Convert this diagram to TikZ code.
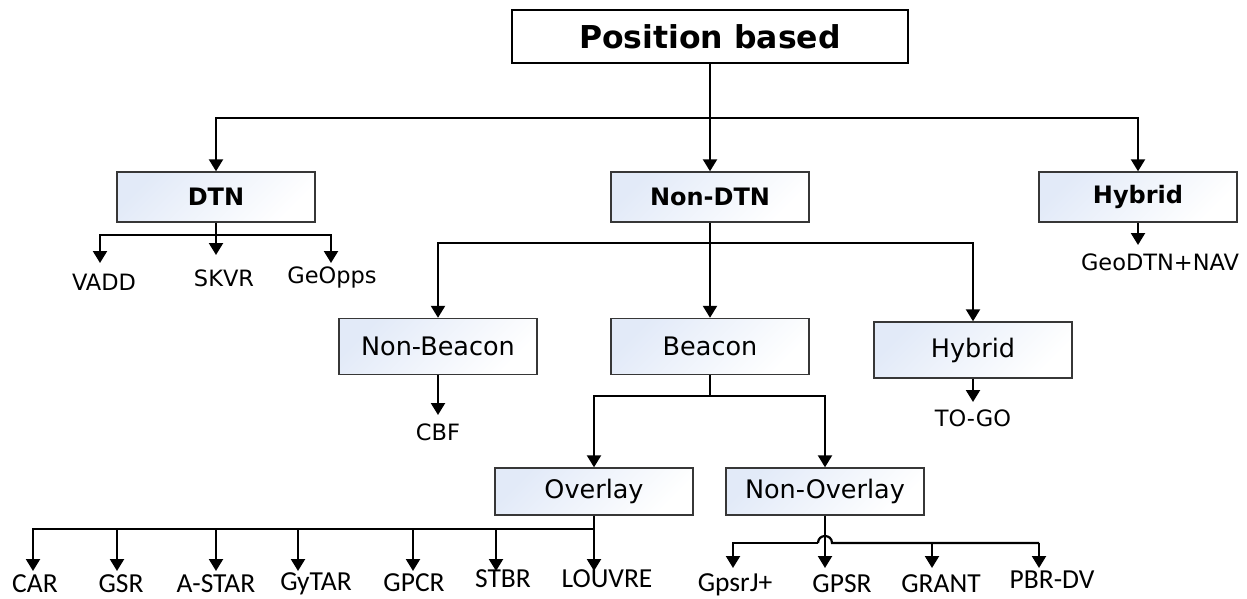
\documentclass[tikz,border=0pt]{standalone}
\usepackage{fontspec}
\setmainfont{DejaVu Sans}
\newfontfamily\leaffont{Carlito}
\usetikzlibrary{arrows.meta}
\definecolor{boxtint}{RGB}{226,234,248}
\definecolor{edgegray}{RGB}{55,55,55}
\tikzset{
  rootbox/.style={draw=black, line width=1.4pt, fill=white, minimum width=396pt,
    minimum height=53pt, inner sep=0pt, font=\fontsize{31.5}{36}\selectfont\bfseries},
  catbox/.style={draw=edgegray, line width=1.4pt, top color=boxtint, bottom color=white,
    shading angle=45, minimum width=198pt, minimum height=50pt, inner sep=0pt,
    font=\fontsize{24}{28}\selectfont\bfseries},
  subbox/.style={catbox, minimum height=56pt, font=\fontsize{25.5}{30}\selectfont},
  lowbox/.style={subbox, minimum height=47pt},
  leaf/.style={inner sep=0pt, font=\fontsize{22.5}{26}\selectfont},
  lowleaf/.style={inner sep=0pt, font=\leaffont\fontsize{27.5}{32}\selectfont},
  link/.style={line width=2.2pt, draw=black},
  arrowlink/.style={link, -{Triangle[width=14pt,length=12pt]}}
}
\begin{document}
\begin{tikzpicture}[x=1pt,y=-1pt]
\useasboundingbox (0,0) rectangle (1247,599);

% boxes
\node[rootbox] (root) at (710,36.5) {Position based};
\node[catbox] (dtn) at (216,197) {DTN};
\node[catbox] (nondtn) at (710,197) {Non-DTN};
\node[catbox] (hybtop) at (1138,197) {Hybrid};
\node[subbox] (nonbeacon) at (438,346.5) {Non-Beacon};
\node[subbox] (beacon) at (710,346.5) {Beacon};
\node[subbox] (hybmid) at (973,350) {Hybrid};
\node[lowbox] (overlay) at (594,491.5) {Overlay};
\node[lowbox] (nonoverlay) at (825,491.5) {Non-Overlay};

% leaf labels
\node[leaf] (vadd) at (104,282) {VADD};
\node[leaf] (skvr) at (224,278) {SKVR};
\node[leaf] (geopps) at (332,277) {GeOpps};
\node[leaf] (geodtn) at (1160,262) {GeoDTN+NAV};
\node[leaf] (cbf) at (438,432) {CBF};
\node[leaf] (togo) at (973,418) {TO-GO};
\node[lowleaf] (car) at (35,584) {CAR};
\node[lowleaf] (gsr) at (121,584) {GSR};
\node[lowleaf] (astar) at (216,584) {A-STAR};
\node[lowleaf] (gytar) at (316,584) {GyTAR};
\node[lowleaf] (gpcr) at (414,583) {GPCR};
\node[lowleaf] (stbr) at (503,579) {STBR};
\node[lowleaf] (louvre) at (607,579) {LOUVRE};
\node[lowleaf] (gpsrj) at (735,585) {GpsrJ+};
\node[lowleaf] (gpsr) at (842,584) {GPSR};
\node[lowleaf] (grant) at (941,584) {GRANT};
\node[lowleaf] (pbrdv) at (1052,580) {PBR-DV};

% junctions and arrow tips
\coordinate (rootbus) at (710,118);
\coordinate (dtnbus) at (216,235);
\coordinate (vaddtip) at (100,263);
\coordinate (skvrtip) at (216,255);
\coordinate (geoppstip) at (331,263);
\coordinate (geodtntip) at (1138,245);
\coordinate (nondtnbus) at (710,243);
\coordinate (cbftip) at (438,415);
\coordinate (togotip) at (973,402);
\coordinate (beaconbus) at (710,396);
\coordinate (overlaybus) at (594,529);
\coordinate (cartip) at (33,571);
\coordinate (gsrtip) at (117,571);
\coordinate (astartip) at (216,571);
\coordinate (gytartip) at (298,571);
\coordinate (gpcrtip) at (413,571);
\coordinate (stbrtip) at (496,571);
\coordinate (louvretip) at (594,571);
\coordinate (gpsrtip) at (825,568);
\coordinate (hopleft) at (818,543);
\coordinate (hopright) at (832,543);
\coordinate (gpsrjtip) at (733,568);
\coordinate (granttip) at (932,568);
\coordinate (granttop) at (932,543);
\coordinate (pbrdvtop) at (1039,543);
\coordinate (pbrdvtip) at (1039,568);

% top level
\draw[link] (root.south) -- (rootbus);
\draw[arrowlink] (rootbus) -- (nondtn.north);
\draw[arrowlink] (rootbus) -| (dtn.north);
\draw[arrowlink] (rootbus) -| (hybtop.north);

% DTN branch
\draw[link] (dtn.south) -- (dtnbus);
\draw[arrowlink] (dtnbus) -| (vaddtip);
\draw[arrowlink] (dtnbus) -- (skvrtip);
\draw[arrowlink] (dtnbus) -| (geoppstip);

% hybrid branch
\draw[arrowlink] (hybtop.south) -- (geodtntip);

% Non-DTN branch
\draw[link] (nondtn.south) -- (nondtnbus);
\draw[arrowlink] (nondtnbus) -| (nonbeacon.north);
\draw[arrowlink] (nondtnbus) -- (beacon.north);
\draw[arrowlink] (nondtnbus) -| (hybmid.north);
\draw[arrowlink] (nonbeacon.south) -- (cbftip);
\draw[arrowlink] (hybmid.south) -- (togotip);

% Beacon branch
\draw[link] (beacon.south) -- (beaconbus);
\draw[arrowlink] (beaconbus) -| (overlay.north);
\draw[arrowlink] (beaconbus) -| (nonoverlay.north);

% Overlay branch
\draw[link] (overlay.south) -- (overlaybus);
\draw[arrowlink] (overlaybus) -| (cartip);
\draw[arrowlink] (overlaybus) -| (gsrtip);
\draw[arrowlink] (overlaybus) -| (astartip);
\draw[arrowlink] (overlaybus) -| (gytartip);
\draw[arrowlink] (overlaybus) -| (gpcrtip);
\draw[arrowlink] (overlaybus) -| (stbrtip);
\draw[arrowlink] (overlaybus) -- (louvretip);

% Non-Overlay branch, the bus hops over the stem
\draw[arrowlink] (nonoverlay.south) -- (gpsrtip);
\draw[arrowlink] (hopleft) -| (gpsrjtip);
\draw[link] (hopleft) .. controls (818,533.7) and (832,533.7) .. (hopright) -- (pbrdvtop);
\draw[arrowlink] (granttop) -- (granttip);
\draw[arrowlink] (pbrdvtop) -- (pbrdvtip);
\end{tikzpicture}
\end{document}
